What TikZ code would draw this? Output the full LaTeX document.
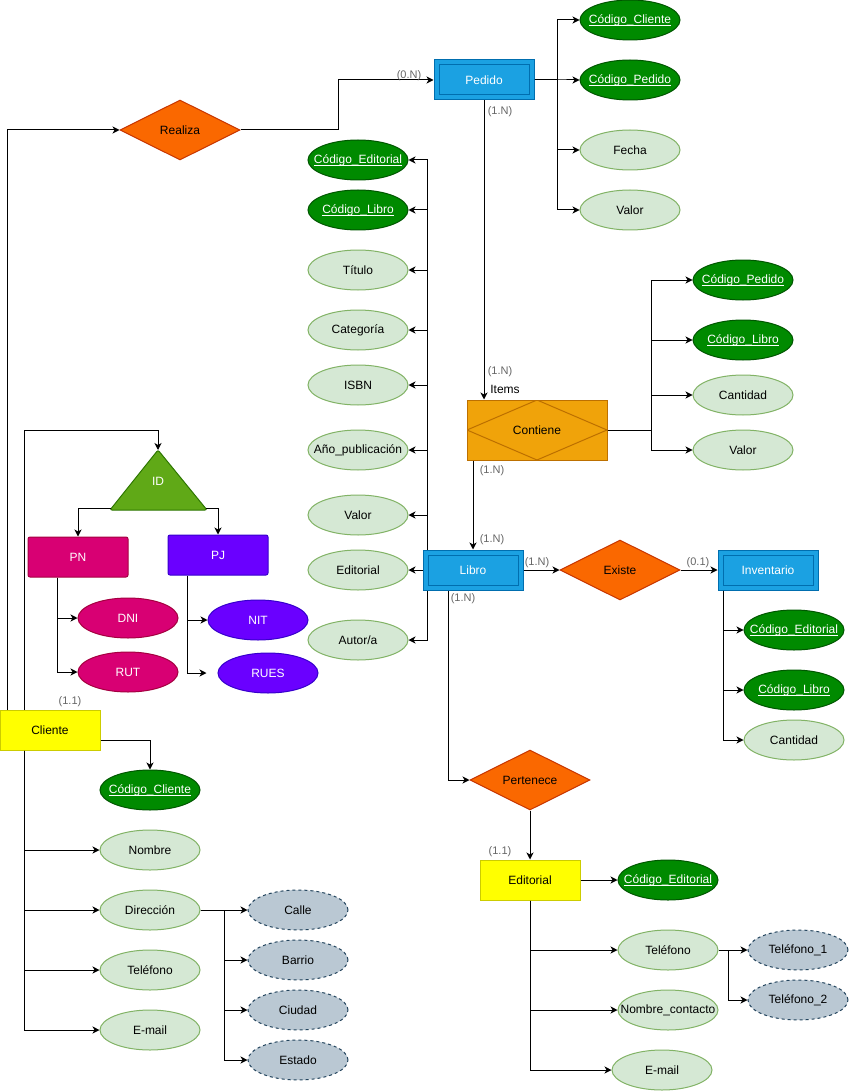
\documentclass[tikz,border=0pt]{standalone}
\usepackage{fontspec}
\setmainfont{Liberation Sans}
\usetikzlibrary{arrows.meta,shapes.geometric}
\definecolor{entfill}{HTML}{1BA1E2}
\definecolor{entline}{HTML}{006EAF}
\definecolor{relfill}{HTML}{FA6800}
\definecolor{relline}{HTML}{C73500}
\definecolor{assfill}{HTML}{F0A30A}
\definecolor{assline}{HTML}{BD7000}
\definecolor{keyfill}{HTML}{008A00}
\definecolor{keyline}{HTML}{005700}
\definecolor{attfill}{HTML}{D5E8D4}
\definecolor{attline}{HTML}{82B366}
\definecolor{subfill}{HTML}{BAC8D3}
\definecolor{subline}{HTML}{23445D}
\definecolor{pnfill}{HTML}{D80073}
\definecolor{pnline}{HTML}{A50040}
\definecolor{pjfill}{HTML}{6A00FF}
\definecolor{pjline}{HTML}{3700CC}
\definecolor{idfill}{HTML}{60A917}
\definecolor{idline}{HTML}{2D7600}
\definecolor{yelfill}{HTML}{FFFF00}
\definecolor{yelline}{HTML}{CCCC00}
\definecolor{cardgray}{HTML}{666666}
\newcommand\keytext[1]{\setbox0\hbox{#1}\rlap{\rule[-2.2pt]{\wd0}{0.7pt}}\box0}

\begin{document}
\begin{tikzpicture}[x=1pt,y=-1pt,line width=1pt,>={Stealth[length=7pt,width=7pt,inset=2pt]},
    font=\fontsize{12}{14}\selectfont,
    ent/.style={rectangle,draw=entline,fill=entfill,text=white,minimum width=100pt,minimum height=40pt,
        path picture={\draw[entline] ([shift={(5pt,-5pt)}]path picture bounding box.north west) rectangle ([shift={(-5pt,5pt)}]path picture bounding box.south east);}},
    yel/.style={rectangle,draw=yelline,fill=yelfill,minimum width=100pt,minimum height=40pt},
    rel/.style={diamond,draw=relline,fill=relfill,minimum width=120pt,minimum height=60pt,inner sep=0pt,aspect=2},
    ass/.style={rectangle,draw=assline,fill=assfill,minimum width=140pt,minimum height=60pt,
        path picture={\draw[assline] (path picture bounding box.west) -- (path picture bounding box.north) -- (path picture bounding box.east) -- (path picture bounding box.south) -- cycle;}},
    att/.style={ellipse,draw=attline,fill=attfill,minimum width=100pt,minimum height=40pt,inner xsep=-14pt,inner ysep=0pt},
    key/.style={att,draw=keyline,fill=keyfill,text=white},
    sub/.style={att,draw=subline,fill=subfill,dashed},
    card/.style={text=cardgray,font=\fontsize{11}{13}\selectfont,inner sep=0pt}]
    \useasboundingbox (0,0) rectangle (849,1091);

    % entidades y relaciones
    \node[ent] (pedido) at (484,80) {Pedido};
    \node[rel] (realiza) at (180,130) {Realiza};
    \node[ass] (contiene) at (537,430) {Contiene};
    \node[ent] (libro) at (473,570) {Libro};
    \node[rel] (existe) at (620,570) {Existe};
    \node[ent] (inventario) at (768,570) {Inventario};
    \node[rel] (pertenece) at (530,780) {Pertenece};
    \node[yel] (editorial) at (530,880) {Editorial};
    \node[yel] (cliente) at (50,730) {Cliente};

    % especializacion
    \draw[draw=idline,fill=idfill,rounded corners=2pt] (158,450) -- (207,510) -- (110,510) -- cycle;
    \node[text=white] (id) at (158,481) {ID};
    \coordinate (idT) at (158,450);
    \coordinate (idL) at (111,508);
    \coordinate (idR) at (206,508);
    \node[rectangle,rounded corners=2pt,draw=pnline,fill=pnfill,text=white,minimum width=100pt,minimum height=40pt] (pn) at (78,557) {PN};
    \node[rectangle,rounded corners=2pt,draw=pjline,fill=pjfill,text=white,minimum width=100pt,minimum height=40pt] (pj) at (218,555) {PJ};
    \node[att,draw=pnline,fill=pnfill,text=white] (dni) at (128,618) {DNI};
    \node[att,draw=pnline,fill=pnfill,text=white] (rut) at (128,672) {RUT};
    \node[att,draw=pjline,fill=pjfill,text=white] (nit) at (258,620) {NIT};
    \node[att,draw=pjline,fill=pjfill,text=white] (rues) at (268,673) {RUES};

    % atributos Pedido
    \node[key] (pCli) at (630,20) {\keytext{Código\_Cliente}};
    \node[key] (pPed) at (630,80) {\keytext{Código\_Pedido}};
    \node[att] (pFec) at (630,150) {Fecha};
    \node[att] (pVal) at (630,210) {Valor};

    % atributos Libro
    \node[key] (lEdi) at (358,160) {\keytext{Código\_Editorial}};
    \node[key] (lLib) at (358,210) {\keytext{Código\_Libro}};
    \node[att] (lTit) at (358,270) {Título};
    \node[att] (lCat) at (358,330) {Categoría};
    \node[att] (lIsb) at (358,385) {ISBN};
    \node[att] (lAno) at (358,450) {Año\_publicación};
    \node[att] (lVal) at (358,515) {Valor};
    \node[att] (lEdt) at (358,570) {Editorial};
    \node[att] (lAut) at (358,640) {Autor/a};

    % atributos Contiene
    \node[key] (cPed) at (743,280) {\keytext{Código\_Pedido}};
    \node[key] (cLib) at (743,340) {\keytext{Código\_Libro}};
    \node[att] (cCan) at (743,395) {Cantidad};
    \node[att] (cVal) at (743,450) {Valor};

    % atributos Inventario
    \node[key] (iEdi) at (794,630) {\keytext{Código\_Editorial}};
    \node[key] (iLib) at (794,690) {\keytext{Código\_Libro}};
    \node[att] (iCan) at (794,740) {Cantidad};

    % atributos Editorial
    \node[key] (eCod) at (668,880) {\keytext{Código\_Editorial}};
    \node[att] (eTel) at (668,950) {Teléfono};
    \node[att] (eNom) at (668,1010) {Nombre\_contacto};
    \node[att] (eMai) at (662,1070) {E-mail};
    \node[sub] (eT1) at (798,950) {Teléfono\_1};
    \node[sub] (eT2) at (798,1000) {Teléfono\_2};

    % atributos Cliente
    \node[key] (kCli) at (150,790) {\keytext{Código\_Cliente}};
    \node[att] (kNom) at (150,850) {Nombre};
    \node[att] (kDir) at (150,910) {Dirección};
    \node[att] (kTel) at (150,970) {Teléfono};
    \node[att] (kMai) at (150,1030) {E-mail};
    \node[sub] (kCal) at (298,910) {Calle};
    \node[sub] (kBar) at (298,960) {Barrio};
    \node[sub] (kCiu) at (298,1010) {Ciudad};
    \node[sub] (kEst) at (298,1060) {Estado};

    % conectores
    \draw[->] ([xshift=8pt]cliente.north west) |- (realiza.west);
    \draw[->] (realiza.east) -- ++(98,0) |- (pedido.west);
    \foreach \n in {pCli,pPed,pFec,pVal}
        \draw[->] (pedido.east) -- ++(23,0) |- (\n.west);
    \draw[->] (pedido.south) -- (pedido.south |- contiene.north);
    \foreach \n in {cPed,cLib,cCan,cVal}
        \draw[->] (contiene.east) -- ++(44,0) |- (\n.west);
    \draw[->] (libro.north |- contiene.south) -- (libro.north);
    \foreach \n in {lEdi,lLib,lTit,lCat,lIsb,lAno,lVal}
        \draw[->] ([xshift=5pt]libro.north west) |- (\n.east);
    \draw[->] (libro.west) -- (lEdt.east);
    \draw[->] ([xshift=5pt]libro.south west) |- (lAut.east);
    \draw[->] (libro.east) -- (existe.west);
    \draw[->] (existe.east) -- (inventario.west);
    \foreach \n in {iEdi,iLib,iCan}
        \draw[->] ([xshift=6pt]inventario.south west) |- (\n.west);
    \draw[->] ([xshift=26pt]libro.south west) |- (pertenece.west);
    \draw[->] (pertenece.south) -- (editorial.north);
    \draw[->] (editorial.east) -- (eCod.west);
    \foreach \n in {eTel,eNom,eMai}
        \draw[->] (editorial.south) |- (\n.west);
    \foreach \n in {eT1,eT2}
        \draw[->] (eTel.east) -- ++(10,0) |- (\n.west);
    \draw[->] ([xshift=25pt]cliente.north west) -- ++(0,-279) -| (idT);
    \draw[->] (idL) -| (pn.north);
    \draw[->] (idR) -| (pj.north);
    \foreach \n in {dni,rut}
        \draw[->] ([xshift=30pt]pn.south west) |- (\n.west);
    \draw[->] ([xshift=20pt]pj.south west) |- (nit.west);
    \draw[->,shorten >=11pt] ([xshift=20pt]pj.south west) |- (rues.west);
    \draw[->] ([yshift=-10pt]cliente.east) -| (kCli.north);
    \foreach \n in {kNom,kDir,kTel,kMai}
        \draw[->] ([xshift=25pt]cliente.south west) |- (\n.west);
    \foreach \n in {kCal,kBar,kCiu,kEst}
        \draw[->] (kDir.east) -- ++(24,0) |- (\n.west);

    % cardinalidades
    \node[card] (c1) at (409,76) {(0.N)};
    \node[card] (c2) at (500,112) {(1.N)};
    \node[card] (c3) at (500,372) {(1.N)};
    \node[inner sep=0pt] (items) at (505,389) {Items};
    \node[card] (c4) at (492,471) {(1.N)};
    \node[card] (c5) at (492,540) {(1.N)};
    \node[card] (c6) at (537,563) {(1.N)};
    \node[card] (c7) at (698,563) {(0.1)};
    \node[card] (c8) at (463,599) {(1.N)};
    \node[card] (c9) at (70,702) {(1.1)};
    \node[card] (c10) at (500,852) {(1.1)};
\end{tikzpicture}
\end{document}
